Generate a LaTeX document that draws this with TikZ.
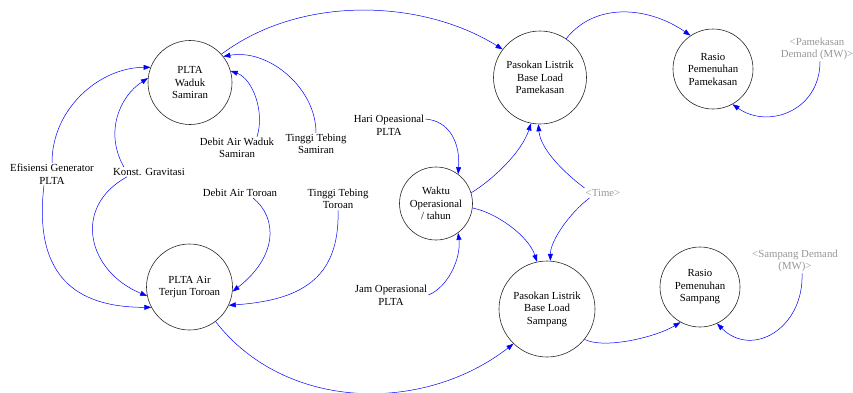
\documentclass[tikz,border=0pt]{standalone}
\usepackage{fontspec}
\setmainfont{Liberation Serif}
\usetikzlibrary{arrows.meta}
\definecolor{shadow}{RGB}{150,150,150}

\begin{document}
\begin{tikzpicture}[x=1pt,y=-1pt,
  every node/.style={font=\fontsize{10.8}{12.5}\selectfont, align=center, inner sep=1pt},
  stock/.style={circle, draw=black!85, line width=0.6pt, inner sep=0pt},
  link/.style={blue, line width=0.5pt, -{Triangle[length=7pt,width=5pt]}}]
\useasboundingbox (0,0) rectangle (853,392);

\node[stock, minimum size=84pt] (wad) at (190,82.5) {PLTA\\Waduk\\Samiran};
\node[stock, minimum size=86pt] (tor) at (189.5,287) {PLTA Air\\Terjun Toroan};
\node[stock, minimum size=93pt] (pam) at (540,77.5) {Pasokan Listrik\\Base Load\\Pamekasan};
\node[stock, minimum size=80pt] (rpam) at (713,69) {Rasio\\Pemenuhan\\Pamekasan};
\node[stock, minimum size=73pt] (wak) at (436,203.5) {Waktu\\Operasional\\/ tahun};
\node[stock, minimum size=96pt] (sam) at (547,309) {Pasokan Listrik\\Base Load\\Sampang};
\node[stock, minimum size=80pt] (rsam) at (700,287) {Rasio\\Pemenuhan\\Sampang};

\node (efis) at (52,174) {Efisiensi Generator\\PLTA};
\node (konst) at (149,172) {Konst. Gravitasi};
\node (dwad) at (237,148) {Debit Air Waduk\\Samiran};
\node (tsam) at (316,144) {Tinggi Tebing\\Samiran};
\node (dtor) at (240,193) {Debit Air Toroan};
\node (ttor) at (338,199) {Tinggi Tebing\\Toroan};
\node (hari) at (389,125) {Hari Opeasional\\PLTA};
\node (jam) at (391,295) {Jam Operasional\\PLTA};
\node[text=shadow] (time) at (603,193) {<Time>};
\node[text=shadow] (pdem) at (817,49) {<Pamekasan\\Demand (MW)>};
\node[text=shadow] (sdem) at (795,261) {<Sampang Demand\\(MW)>};

\draw[link] (efis.north) .. controls +(0,-55) and +(-50,0) .. (wad.159);
\draw[link] ([xshift=-8pt]efis.south) .. controls +(-12,100) and +(-65,0) .. (tor.208);
\draw[link] ([xshift=-25pt]konst.north) .. controls +(-20,-35) and +(-28,18) .. (wad.174);
\draw[link] ([xshift=-22pt]konst.south) .. controls +(-55,30) and +(-60,-25) .. (tor.192);
\draw[link] ([xshift=20pt]dwad.north) .. controls +(8,-25) and +(22,8) .. (wad.16);
\draw[link] (tsam.north) .. controls +(0,-45) and +(45,-8) .. (wad.38);
\draw[link] ([xshift=13pt]dtor.south) .. controls +(25,20) and +(45,-35) .. (tor.354);
\draw[link] (ttor.south) .. controls +(2,70) and +(70,-5) .. (tor.335);
\draw[link] (wad.42) .. controls +(80,-60) and +(-80,-50) .. (pam.143);
\draw[link] (pam.56) .. controls +(30,-38) and +(-40,-28) .. (rpam.124);
\draw[link] ([xshift=3pt]pdem.south) .. controls +(0,50) and +(35,25) .. (rpam.299);
\draw[link] ([yshift=6pt]hari.east) .. controls +(25,2) and +(2,-30) .. (wak.53);
\draw[link] (wak.17) .. controls +(20,-12) and +(-10,30) .. (pam.259);
\draw[link] ([yshift=5pt]time.west) .. controls +(-20,-15) and +(2,25) .. (pam.268);
\draw[link] ([xshift=5pt,yshift=-5pt]time.west) .. controls +(-20,15) and +(0,-20) .. (sam.86);
\draw[link] (wak.353) .. controls +(25,5) and +(-8,-25) .. (sam.102);
\draw[link] (jam.east) .. controls +(20,-8) and +(3,25) .. (wak.307);
\draw[link] (tor.307) .. controls +(70,90) and +(-90,70) .. (sam.226);
\draw[link] (sam.321) .. controls +(20,10) and +(-25,15) .. (rsam.241);
\draw[link] ([xshift=7pt]sdem.south) .. controls +(2,55) and +(35,35) .. (rsam.295);
\end{tikzpicture}
\end{document}
